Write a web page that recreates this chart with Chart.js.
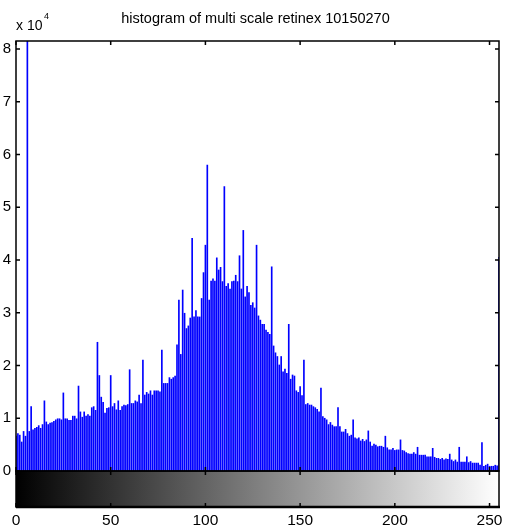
<!DOCTYPE html>
<html>
<head>
<meta charset="utf-8">
<script src="https://cdn.jsdelivr.net/npm/chart.js@4.4.1/dist/chart.umd.min.js"></script>
<style>
  html, body { margin: 0; padding: 0; background: #fff; }
  canvas { display: block; }
</style>
</head>
<body>
<canvas id="hist" width="509" height="531"></canvas>
<script>
// histogram counts for grey levels 0..255
var counts = [
  6600, 7100, 6800, 5500, 7500, 6600, 95000, 7500, 12200, 7800, 8100, 8300, 8600, 8100, 8800, 13300,
  9300, 8800, 9100, 9200, 9400, 9700, 9900, 9900, 9700, 14800, 9900, 9900, 9600, 9600, 10400, 10400,
  9900, 16100, 11200, 10200, 11200, 10400, 10700, 10400, 12000, 12200, 11500, 24400, 18100, 14000, 13000, 11000,
  11900, 12000, 18100, 12200, 12800, 11600, 13300, 11500, 12200, 12500, 12400, 12600, 19200, 12800, 12800, 13300,
  13100, 14400, 12800, 21000, 14400, 14900, 14600, 15200, 14400, 15200, 15200, 15200, 15000, 22900, 16600, 16600,
  16600, 17700, 17400, 17700, 18000, 23900, 32400, 22100, 34300, 29900, 27000, 27500, 29000, 44100, 29200, 30400,
  29200, 29200, 32700, 37600, 42800, 58000, 32400, 36000, 36400, 36000, 40400, 38100, 38600, 35900, 53900, 35000,
  35500, 34500, 35900, 36000, 37100, 35900, 40800, 34500, 45600, 33000, 35000, 33800, 31400, 31900, 30900, 42800,
  29400, 28600, 27800, 27800, 26700, 26300, 25900, 38700, 23700, 22400, 21700, 20100, 21700, 18800, 19300, 18500,
  27800, 17400, 18200, 18000, 15200, 14900, 16000, 14300, 21000, 12600, 12800, 12500, 12500, 12200, 12000, 11700,
  11200, 15700, 10300, 10000, 9700, 8800, 9200, 8700, 8400, 8400, 12000, 8400, 7400, 7400, 7900, 7100,
  6600, 6800, 9700, 6300, 6100, 6300, 5700, 6000, 5600, 5900, 7600, 5500, 4700, 5100, 4900, 4600,
  4700, 4700, 4500, 6600, 4400, 4000, 4000, 4300, 3900, 4000, 4000, 5900, 3900, 3800, 3500, 3300,
  3200, 3200, 3500, 3200, 4500, 3000, 3000, 3000, 3000, 2700, 2700, 2700, 4300, 2600, 2400, 2400,
  2200, 2400, 2100, 2300, 2200, 3200, 2100, 1800, 2100, 1700, 4500, 1700, 1700, 1700, 2700, 1600,
  1800, 1500, 1500, 1500, 1500, 1100, 5400, 900, 1100, 1300, 900, 900, 900, 1100, 1000, 40500
];

// grey levels (categories)
var levels = [];
for (var i = 0; i < counts.length; i++) levels.push(i);

var xTicks = [0, 50, 100, 150, 200, 250];
var yTicks = [0, 1, 2, 3, 4, 5, 6, 7, 8];   // in units of 10^4
var yMax = 81500;
var titleText = 'histogram of multi scale retinex 10150270';

var points = levels.map(function(l, i) { return { x: l, y: counts[i] }; });

Chart.defaults.font.family = "'Liberation Sans', Arial, sans-serif";
Chart.defaults.color = '#000';

// draws the matlab style box, inward ticks, grey colorbar, title and the x 10^4 note
var matlabBox = {
  id: 'matlabBox',
  beforeDatasetsDraw: function(chart) {
    var ctx = chart.ctx, a = chart.chartArea, xs = chart.scales.x;
    var barH = 36;
    var g = ctx.createLinearGradient(xs.getPixelForValue(0), 0, xs.getPixelForValue(255), 0);
    g.addColorStop(0, '#000');
    g.addColorStop(1, '#fff');
    ctx.save();
    ctx.fillStyle = g;
    ctx.fillRect(a.left, a.bottom, a.right - a.left, barH);
    ctx.restore();
  },
  afterDatasetsDraw: function(chart) {
    var ctx = chart.ctx, a = chart.chartArea;
    var xs = chart.scales.x, ys = chart.scales.y;
    var barH = 36, tl = 4;
    ctx.save();
    ctx.strokeStyle = '#000';
    ctx.lineWidth = 1.5;
    ctx.strokeRect(a.left, a.top, a.right - a.left, a.bottom - a.top);
    ctx.strokeRect(a.left, a.bottom, a.right - a.left, barH);
    ctx.lineWidth = 2.5;
    ctx.beginPath();
    ctx.moveTo(a.left, a.bottom + barH);
    ctx.lineTo(a.right + 1, a.bottom + barH);
    ctx.stroke();

    ctx.lineWidth = 1.5;
    ctx.beginPath();
    yTicks.forEach(function(t) {
      var py = ys.getPixelForValue(t * 10000);
      ctx.moveTo(a.left, py); ctx.lineTo(a.left + tl, py);
      ctx.moveTo(a.right, py); ctx.lineTo(a.right - tl, py);
    });
    xTicks.forEach(function(t) {
      var px = xs.getPixelForValue(t);
      ctx.moveTo(px, a.top); ctx.lineTo(px, a.top + tl);
      ctx.moveTo(px, a.bottom); ctx.lineTo(px, a.bottom - tl);
      ctx.moveTo(px, a.bottom); ctx.lineTo(px, a.bottom + tl);
      ctx.moveTo(px, a.bottom + barH); ctx.lineTo(px, a.bottom + barH - tl);
    });
    ctx.stroke();

    ctx.fillStyle = '#000';
    ctx.textBaseline = 'alphabetic';
    ctx.textAlign = 'center';
    ctx.font = "14.5px 'Liberation Sans', Arial, sans-serif";
    ctx.fillText(titleText, (a.left + a.right) / 2 - 2, 22.5);

    ctx.textAlign = 'left';
    ctx.font = "14px 'Liberation Sans', Arial, sans-serif";
    ctx.fillText('x 10', a.left, 30);
    var w = ctx.measureText('x 10').width;
    ctx.font = "9px 'Liberation Sans', Arial, sans-serif";
    ctx.fillText('4', a.left + w + 1.5, 19);
    ctx.restore();
  }
};

var ctx = document.getElementById('hist').getContext('2d');
var chart = new Chart(ctx, {
  type: 'bar',
  data: {
    datasets: [{
      label: 'histogram',
      data: points,
      backgroundColor: '#0000ff',
      borderWidth: 0,
      barThickness: 1.0
    }]
  },
  options: {
    responsive: false,
    animation: false,
    devicePixelRatio: 1,
    layout: { padding: { left: 0, right: 10, top: 41, bottom: 0 } },
    plugins: {
      legend: { display: false },
      tooltip: { enabled: false },
      title: { display: false }
    },
    scales: {
      x: {
        type: 'linear',
        min: 0,
        max: 255,
        offset: false,
        grid: { display: false, drawTicks: false },
        border: { display: false },
        afterBuildTicks: function(scale) {
          scale.ticks = xTicks.map(function(v) { return { value: v }; });
        },
        afterFit: function(scale) {
          // labels sit under the colorbar, keep the side padding at zero
          scale.height = 60;
          scale.paddingLeft = 0;
          scale.paddingRight = 0;
        },
        ticks: { font: { size: 15.5 }, padding: 40, maxRotation: 0, autoSkip: false }
      },
      y: {
        min: 0,
        max: yMax,
        grid: { display: false, drawTicks: false },
        border: { display: false },
        afterBuildTicks: function(scale) {
          scale.ticks = yTicks.map(function(v) { return { value: v * 10000 }; });
        },
        afterFit: function(scale) { scale.width = 16; },
        ticks: {
          font: { size: 15 },
          padding: 5,
          callback: function(v) { return v / 10000; }
        }
      }
    }
  },
  plugins: [matlabBox]
});
</script>
</body>
</html>
